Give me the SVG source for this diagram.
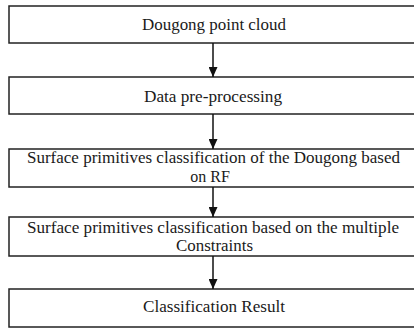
<svg xmlns="http://www.w3.org/2000/svg" width="414" height="328" viewBox="0 0 414 328">
  <style>
    .box { fill: #ffffff; stroke: #222222; stroke-width: 1.5; }
    .label { font-family: 'Liberation Serif', 'Times New Roman', serif; font-size: 16px; fill: #1a1a1a; text-anchor: middle; }
    .flow { stroke: #111111; stroke-width: 1.5; fill: none; marker-end: url(#head); }
  </style>
  <defs>
    <marker id="head" viewBox="0 0 10 9" refX="10" refY="4.5" markerWidth="10" markerHeight="9" markerUnits="userSpaceOnUse" orient="auto">
      <path d="M0,0 L10,4.5 L0,9 Z" fill="#111111"/>
    </marker>
  </defs>
  <rect width="414" height="328" fill="#ffffff"/>

  <!-- process steps -->
  <g id="step-point-cloud">
    <rect class="box" x="9" y="6" width="412" height="37"/>
    <text class="label" x="214" y="30" textLength="144" lengthAdjust="spacingAndGlyphs">Dougong point cloud</text>
  </g>
  <g id="step-preprocessing">
    <rect class="box" x="9" y="77" width="412" height="37"/>
    <text class="label" x="213" y="102" textLength="138" lengthAdjust="spacingAndGlyphs">Data pre-processing</text>
  </g>
  <g id="step-rf-classification">
    <rect class="box" x="9" y="149" width="412" height="38"/>
    <text class="label" x="213.5" y="163" textLength="373" lengthAdjust="spacingAndGlyphs">Surface primitives classification of the Dougong based</text>
    <text class="label" x="210" y="182">on RF</text>
  </g>
  <g id="step-constraint-classification">
    <rect class="box" x="9" y="217" width="412" height="39"/>
    <text class="label" x="213" y="233" textLength="372" lengthAdjust="spacingAndGlyphs">Surface primitives classification based on the multiple</text>
    <text class="label" x="214.5" y="251" textLength="77" lengthAdjust="spacingAndGlyphs">Constraints</text>
  </g>
  <g id="step-result">
    <rect class="box" x="9" y="289" width="412" height="38"/>
    <text class="label" x="214" y="312" textLength="142" lengthAdjust="spacingAndGlyphs">Classification Result</text>
  </g>

  <!-- connectors -->
  <g id="connectors">
    <line class="flow" x1="213" y1="43" x2="213" y2="77"/>
    <line class="flow" x1="213" y1="114" x2="213" y2="149"/>
    <line class="flow" x1="213" y1="187" x2="213" y2="217"/>
    <line class="flow" x1="213" y1="256" x2="213" y2="289"/>
  </g>
</svg>
